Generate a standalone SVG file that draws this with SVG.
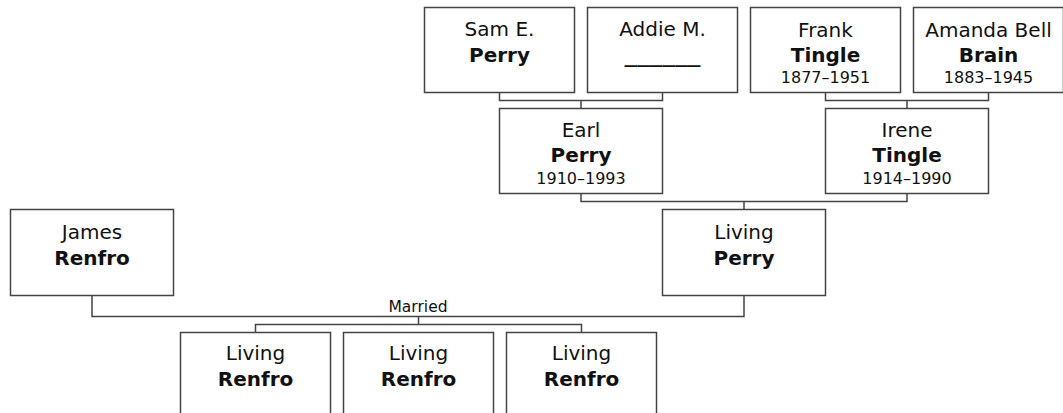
<svg xmlns="http://www.w3.org/2000/svg" width="1063" height="413" viewBox="0 0 1063 413">
<style>
.box{fill:#fff;stroke:#444;stroke-width:1.5}
.con{fill:none;stroke:#444;stroke-width:1.5}
text{font-family:"DejaVu Sans","Verdana",sans-serif;fill:#111;text-anchor:middle}
.n{font-size:20px}
.s{font-size:20px;font-weight:bold}
.d{font-size:16px}
.lbl{font-size:15.5px}
</style>
<rect width="1063" height="413" fill="#fff"/>
<g id="connectors">
<path class="con" d="M499.5 92.5 V100.5 H662.5 V92.5 M581 100.5 V108.5"/>
<path class="con" d="M825.5 92.5 V100.5 H988.5 V92.5 M907 100.5 V108.5"/>
<path class="con" d="M581 193.5 V201.5 H907 V193.5 M744 201.5 V209.5"/>
<path class="con" d="M92 295.5 V316.5 H744 V295.5"/>
<path class="con" d="M418.5 316.5 V324.5 M255.5 332.5 V324.5 H581.5 V332.5"/>
<text class="lbl" x="418" y="312">Married</text>
</g>
<g id="sam">
<rect class="box" x="424.5" y="7.5" width="150" height="85"/>
<text class="n" x="499.5" y="36">Sam E.</text>
<text class="s" x="499.5" y="62">Perry</text>
</g>
<g id="addie">
<rect class="box" x="587.5" y="7.5" width="150" height="85"/>
<text class="n" x="662.5" y="36">Addie M.</text>
<text class="s" x="662.5" y="62" textLength="76" lengthAdjust="spacingAndGlyphs">______</text>
</g>
<g id="frank">
<rect class="box" x="750.5" y="7.5" width="150" height="85"/>
<text class="n" x="825.5" y="37">Frank</text>
<text class="s" x="825.5" y="62">Tingle</text>
<text class="d" x="825.5" y="83">1877–1951</text>
</g>
<g id="amanda">
<rect class="box" x="913.5" y="7.5" width="150" height="85"/>
<text class="n" x="988.5" y="37">Amanda Bell</text>
<text class="s" x="988.5" y="62">Brain</text>
<text class="d" x="988.5" y="83">1883–1945</text>
</g>
<g id="earl">
<rect class="box" x="499.5" y="108.5" width="163" height="85"/>
<text class="n" x="581" y="137">Earl</text>
<text class="s" x="581" y="162">Perry</text>
<text class="d" x="581" y="184">1910–1993</text>
</g>
<g id="irene">
<rect class="box" x="825.5" y="108.5" width="163" height="85"/>
<text class="n" x="907" y="137">Irene</text>
<text class="s" x="907" y="162">Tingle</text>
<text class="d" x="907" y="184">1914–1990</text>
</g>
<g id="james">
<rect class="box" x="10.5" y="209.5" width="163" height="86"/>
<text class="n" x="92" y="239">James</text>
<text class="s" x="92" y="265">Renfro</text>
</g>
<g id="livingperry">
<rect class="box" x="662.5" y="209.5" width="163" height="86"/>
<text class="n" x="744" y="239">Living</text>
<text class="s" x="744" y="265">Perry</text>
</g>
<g id="child1">
<rect class="box" x="180.5" y="332.5" width="150" height="86"/>
<text class="n" x="255.5" y="360">Living</text>
<text class="s" x="255.5" y="386">Renfro</text>
</g>
<g id="child2">
<rect class="box" x="343.5" y="332.5" width="150" height="86"/>
<text class="n" x="418.5" y="360">Living</text>
<text class="s" x="418.5" y="386">Renfro</text>
</g>
<g id="child3">
<rect class="box" x="506.5" y="332.5" width="150" height="86"/>
<text class="n" x="581.5" y="360">Living</text>
<text class="s" x="581.5" y="386">Renfro</text>
</g>
</svg>
